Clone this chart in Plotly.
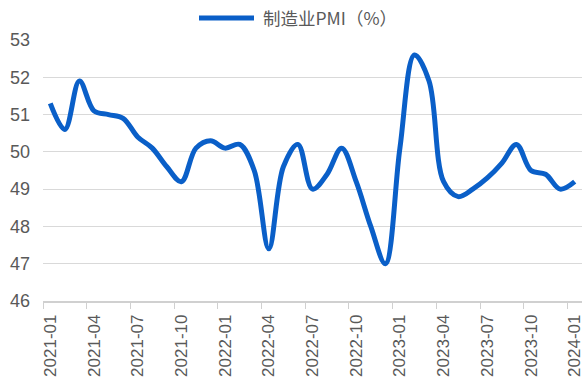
import plotly.graph_objects as go

# Monthly manufacturing PMI, 2021-01 .. 2024-01
months = [f"{y}-{m:02d}" for y in (2021, 2022, 2023) for m in range(1, 13)] + ["2024-01"]
pmi = [51.3, 50.6, 51.9, 51.1, 51.0, 50.9, 50.4, 50.1, 49.6, 49.2, 50.1, 50.3,
       50.1, 50.2, 49.5, 47.4, 49.6, 50.2, 49.0, 49.4, 50.1, 49.2, 48.0, 47.0,
       50.1, 52.6, 51.9, 49.2, 48.8, 49.0, 49.3, 49.7, 50.2, 49.5, 49.4, 49.0,
       49.2]
series_name = "制造业PMI（%）"
y_ticks = [46, 47, 48, 49, 50, 51, 52, 53]

LINE_COLOR = "#0a5fc8"
TEXT_COLOR = "#595959"
W, H = 583, 390
ML, MR, MT, MB = 43, 1, 40, 89
PW = W - ML - MR

fig = go.Figure()
fig.add_trace(go.Scatter(
    x=months, y=pmi, mode="lines", name=series_name,
    line=dict(color=LINE_COLOR, width=5, shape="spline", smoothing=1.0),
    showlegend=False,
))

# legend drawn by hand: sample line + label above the plot
def px_to_paper_x(px):
    return (px - ML) / PW

def px_to_paper_y(py):
    return 1 - (py - MT) / (H - MT - MB)

fig.add_shape(type="line", xref="paper", yref="paper",
              x0=px_to_paper_x(199), x1=px_to_paper_x(254),
              y0=px_to_paper_y(18), y1=px_to_paper_y(18),
              line=dict(color=LINE_COLOR, width=5))
fig.add_annotation(xref="paper", yref="paper",
                   x=px_to_paper_x(261), y=px_to_paper_y(18),
                   xanchor="left", yanchor="middle", showarrow=False,
                   text=series_name,
                   font=dict(family="Noto Sans CJK SC", size=17.5, color=TEXT_COLOR))

fig.update_layout(
    width=W, height=H,
    margin=dict(l=ML, r=MR, t=MT, b=MB, autoexpand=False),
    paper_bgcolor="white", plot_bgcolor="white",
    font=dict(family="Liberation Sans, Arial, sans-serif", color=TEXT_COLOR),
)
fig.update_xaxes(
    type="category", range=[-0.5, len(months) - 0.5],
    tickmode="linear", tick0=0, dtick=3, tickson="boundaries",
    tickangle=-90, ticks="outside", ticklen=6, tickcolor="#d0d0d0",
    showline=True, linecolor="#d0d0d0", linewidth=1.5,
    showgrid=False, automargin=False, ticklabelstandoff=5,
    tickfont=dict(size=17, color=TEXT_COLOR),
)
fig.update_yaxes(
    range=[46, 53], tickvals=y_ticks,
    showgrid=True, gridcolor="#d9d9d9", gridwidth=1.2,
    zeroline=False, showline=False, ticks="", ticklabelstandoff=12,
    automargin=False,
    tickfont=dict(size=18, color=TEXT_COLOR),
)

fig.write_html("out.html")
